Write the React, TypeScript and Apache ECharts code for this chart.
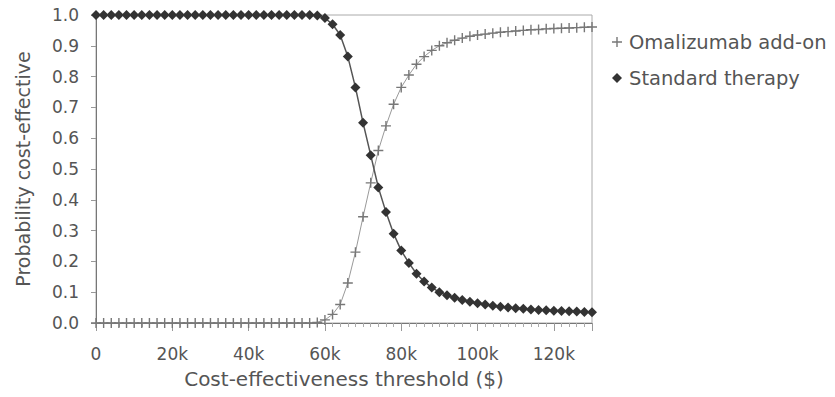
import React, { useEffect, useRef } from "react";
import * as echarts from "echarts";

// Willingness-to-pay thresholds ($ thousands)
const thresholdsK = [
  0, 2, 4, 6, 8, 10, 12, 14, 16, 18, 20, 22, 24, 26, 28, 30, 32, 34, 36, 38,
  40, 42, 44, 46, 48, 50, 52, 54, 56, 58, 60, 62, 64, 66, 68, 70, 72, 74, 76, 78,
  80, 82, 84, 86, 88, 90, 92, 94, 96, 98, 100, 102, 104, 106, 108, 110, 112, 114,
  116, 118, 120, 122, 124, 126, 128, 130,
];

const omalizumab = [
  0, 0, 0, 0, 0, 0, 0, 0, 0, 0, 0, 0, 0, 0, 0, 0, 0, 0, 0, 0,
  0, 0, 0, 0, 0, 0, 0, 0, 0, 0.002, 0.01, 0.028, 0.06, 0.13, 0.23, 0.345, 0.455, 0.56, 0.64, 0.71,
  0.765, 0.805, 0.84, 0.865, 0.885, 0.9, 0.91, 0.918, 0.925, 0.931, 0.935, 0.938, 0.941, 0.944, 0.946, 0.948, 0.95, 0.952,
  0.953, 0.955, 0.956, 0.957, 0.958, 0.959, 0.96, 0.961,
];

const standard = [
  1, 1, 1, 1, 1, 1, 1, 1, 1, 1, 1, 1, 1, 1, 1, 1, 1, 1, 1, 1,
  1, 1, 1, 1, 1, 1, 1, 1, 1, 0.998, 0.99, 0.97, 0.935, 0.865, 0.765, 0.65, 0.545, 0.44, 0.36, 0.29,
  0.235, 0.195, 0.16, 0.135, 0.115, 0.1, 0.09, 0.082, 0.075, 0.069, 0.064, 0.06, 0.056, 0.053, 0.05, 0.048, 0.046, 0.044,
  0.042, 0.041, 0.04, 0.039, 0.038, 0.037, 0.036, 0.035,
];

const seriesNames = ["Omalizumab add-on", "Standard therapy"];
const xTitle = "Cost-effectiveness threshold ($)";
const yTitle = "Probability cost-effective";

const PLUS = "path://M4.3,0H5.7V4.3H10V5.7H5.7V10H4.3V5.7H0V4.3H4.3Z";
const FONT = "DejaVu Sans";
const TEXT = "#555";

export default function App() {
  const ref = useRef<HTMLDivElement>(null);
  useEffect(() => {
    if (!ref.current) return;
    const chart = echarts.init(ref.current, undefined, { renderer: "svg" });
    chart.setOption({
      animation: false,
      backgroundColor: "#fff",
      textStyle: { fontFamily: FONT },
      grid: {
        left: 96,
        right: 243,
        top: 15,
        bottom: 74,
        show: true,
        borderColor: "#aaa",
        borderWidth: 1,
      },
      legend: {
        orient: "vertical",
        left: 607,
        top: 26,
        itemWidth: 10,
        itemHeight: 10,
        itemGap: 14,
        textStyle: {
          fontFamily: FONT,
          fontSize: 19.5,
          color: TEXT,
          lineHeight: 22,
          padding: [0, 0, 0, 2],
        },
        data: [
          { name: seriesNames[0], icon: PLUS, itemStyle: { color: "#777" } },
          { name: seriesNames[1], icon: "diamond", itemStyle: { color: "#333" } },
        ],
      },
      xAxis: {
        type: "value",
        min: 0,
        max: 130000,
        interval: 20000,
        name: xTitle,
        nameLocation: "middle",
        nameGap: 46,
        nameTextStyle: { fontFamily: FONT, fontSize: 20, color: TEXT },
        axisLine: { show: true, lineStyle: { color: "#777", width: 1 } },
        axisTick: { show: true, length: 8, lineStyle: { color: "#999" } },
        minorTick: { show: true, splitNumber: 10, length: 4, lineStyle: { color: "#aaa" } },
        splitLine: { show: false },
        axisLabel: {
          margin: 22,
          fontFamily: FONT,
          fontSize: 17,
          color: TEXT,
          showMaxLabel: false,
          formatter: (v: number) => (v === 0 ? "0" : v >= 130000 ? "" : v / 1000 + "k"),
        },
      },
      yAxis: {
        type: "value",
        min: 0,
        max: 1,
        interval: 0.1,
        name: yTitle,
        nameLocation: "middle",
        nameGap: 64,
        nameTextStyle: { fontFamily: FONT, fontSize: 19, color: TEXT },
        axisLine: { show: true, lineStyle: { color: "#777", width: 1 } },
        axisTick: { show: true, length: 5, lineStyle: { color: "#999" } },
        splitLine: { show: false },
        axisLabel: {
          margin: 17,
          fontFamily: FONT,
          fontSize: 17,
          color: TEXT,
          formatter: (v: number) => v.toFixed(1),
        },
      },
      series: [
        {
          name: seriesNames[0],
          type: "line",
          data: thresholdsK.map((t, i) => [t * 1000, omalizumab[i]]),
          symbol: PLUS,
          symbolSize: 10,
          showAllSymbol: true,
          itemStyle: { color: "#777" },
          lineStyle: { color: "#999", width: 1 },
          z: 2,
        },
        {
          name: seriesNames[1],
          type: "line",
          data: thresholdsK.map((t, i) => [t * 1000, standard[i]]),
          symbol: "diamond",
          symbolSize: 10,
          showAllSymbol: true,
          itemStyle: { color: "#333" },
          lineStyle: { color: "#555", width: 1.5 },
          z: 3,
        },
      ],
    });
    return () => chart.dispose();
  }, []);
  return (
    <div
      ref={ref}
      style={{ position: "fixed", left: 0, top: 0, width: 835, height: 397 }}
    />
  );
}
